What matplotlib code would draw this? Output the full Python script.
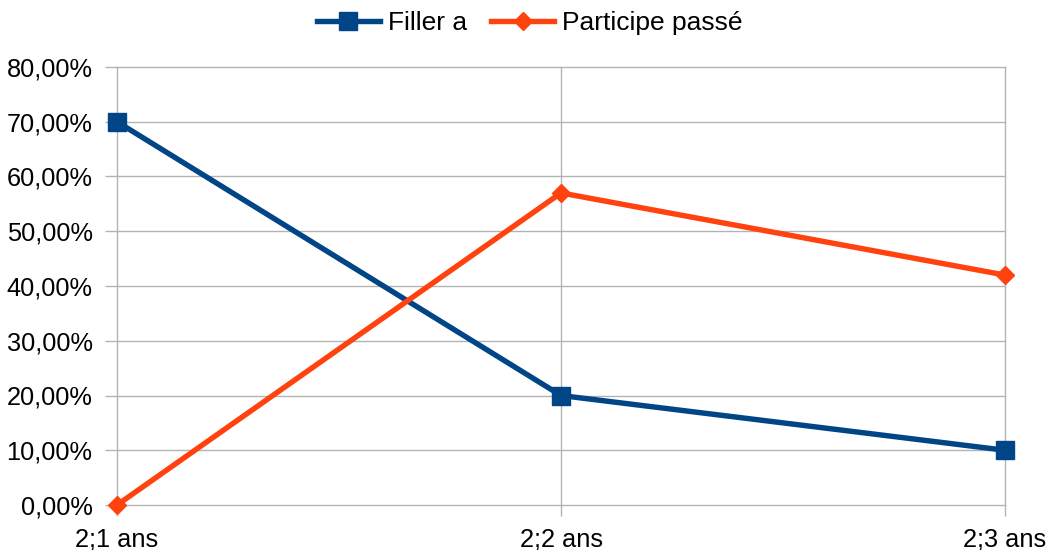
import matplotlib
matplotlib.use("Agg")
import matplotlib.pyplot as plt
from matplotlib.ticker import FuncFormatter

categories = ["2;1 ans", "2;2 ans", "2;3 ans"]
filler_a = [70.0, 20.0, 10.0]
participe_passe = [0.0, 57.0, 42.0]
yticks = [0, 10, 20, 30, 40, 50, 60, 70, 80]

plt.rcParams['font.family'] = ['Liberation Sans', 'DejaVu Sans']

fig = plt.figure(figsize=(10.53, 5.5), dpi=100)
ax = fig.add_axes([117/1053, 1-505/550, (1005-117)/1053, (505-67)/550])

x = list(range(len(categories)))
ax.plot(x, filler_a, color="#004586", lw=3.9, marker="s", ms=13, label="Filler a", zorder=3, clip_on=False)
ax.plot(x, participe_passe, color="#ff420e", lw=3.9, marker="D", ms=9.5, label="Participe passé", zorder=3, clip_on=False)

ax.set_xlim(0, 2)
ax.set_ylim(0, 80)
ax.set_xticks(x)
ax.set_xticklabels(categories)
ax.set_yticks(yticks)
ax.yaxis.set_major_formatter(FuncFormatter(lambda v, p: f"{v:.2f}".replace(".", ",") + "%"))
ax.grid(True, color="#b3b3b3", lw=1)
ax.set_axisbelow(True)
for gl in ax.get_xgridlines() + ax.get_ygridlines():
    gl.set_clip_on(False)
for s in ax.spines.values():
    s.set_visible(False)
ax.tick_params(axis="both", width=1, color="#b3b3b3", labelsize=18.3, labelcolor="black")
ax.tick_params(axis="x", length=8, pad=8.5)
ax.tick_params(axis="y", length=8.6, pad=9)

fig.legend(loc="center", bbox_to_anchor=(0.503, 1 - 23/550), ncol=2, frameon=False, fontsize=19,
           handlelength=2.4, handletextpad=0.3, columnspacing=0.9, markerscale=0.95,
           borderaxespad=0, borderpad=0)

fig.savefig("out.png", dpi=100)
